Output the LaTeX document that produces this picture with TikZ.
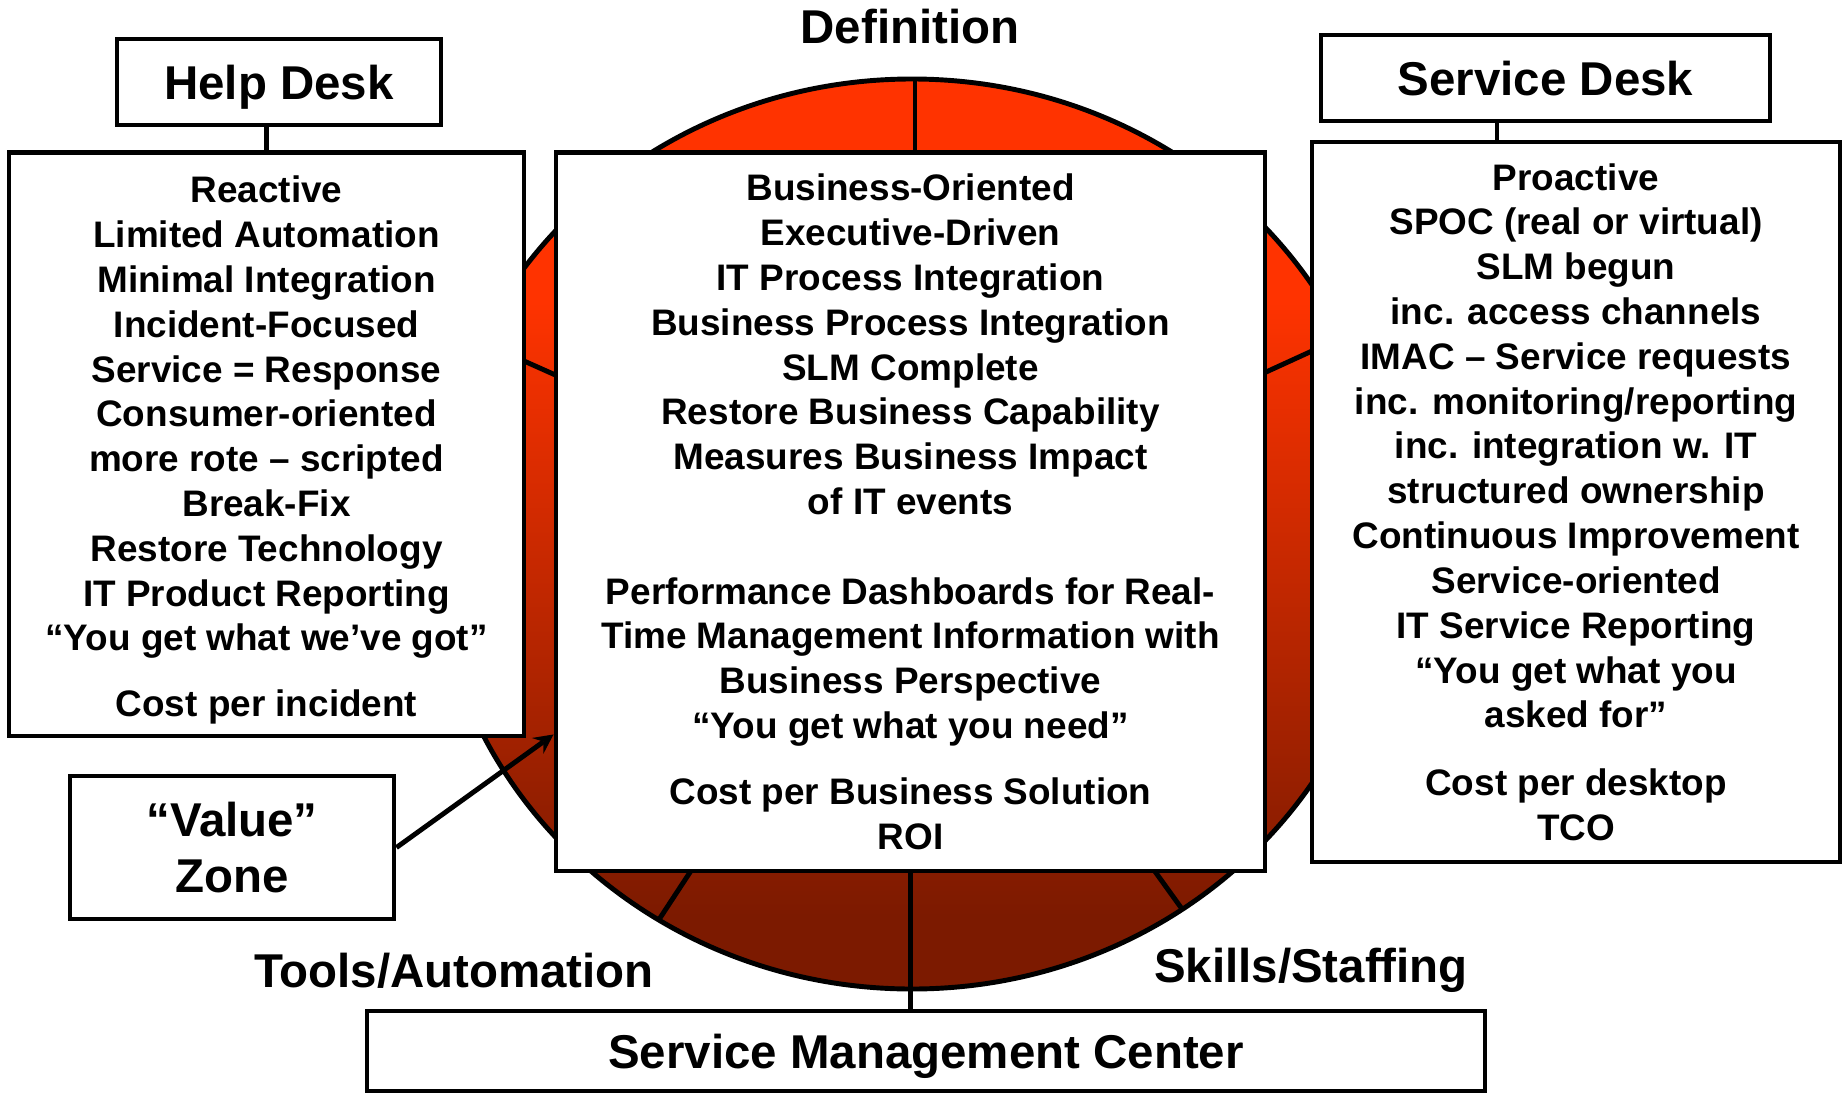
\documentclass[tikz,border=0pt]{standalone}
\usepackage{fontspec}
\setmainfont{Liberation Sans}
\definecolor{discred}{RGB}{255,51,0}
\definecolor{discdark}{RGB}{124,26,0}
\pgfdeclareverticalshading{disc}{100bp}{color(0bp)=(discdark); color(29bp)=(discdark); color(63bp)=(discred); color(100bp)=(discred)}
\begin{document}
\begin{tikzpicture}[>=stealth,x=1cm,y=1cm,
	listbox/.style={draw,line width=1.4pt,fill=white,inner sep=0pt,align=center,font=\fontsize{10.5}{12.75}\selectfont\bfseries},
	headbox/.style={draw,line width=1.4pt,fill=white,inner sep=0pt,align=center,font=\fontsize{13.5}{16.2}\selectfont\bfseries},
	ringtext/.style={anchor=base,font=\fontsize{13.5}{16.2}\selectfont\bfseries},
	spoke/.style={line width=1.4pt},
	link/.style={line width=1.2pt}]
		\useasboundingbox (0,0) rectangle (18.45,10.93);
		\coordinate (hub) at (9.12,5.59);
		\shade[shading=disc] (hub) ellipse (4.78 and 4.55);
		\begin{scope}
		\clip (hub) ellipse (4.78 and 4.55);
		\draw[spoke] (9.15,5.59)--++(0,5.5);
		\draw[spoke] (hub)--++(-7.76,3.46) (hub)--++(8,3.66) (hub)--++(-5.04,-7.68) (hub)--++(5.4,-7.5);
		\end{scope}
		\draw[line width=1.4pt] (hub) ellipse (4.78 and 4.55);
		\node[ringtext] (defn) at (9.10,10.49) {Definition};
		\node[ringtext] (tools) at (4.54,1.06) {Tools/Automation};
		\node[ringtext] (skills) at (13.11,1.11) {Skills/Staffing};
		\node[headbox,text depth=0pt,minimum width=3.24cm,minimum height=0.86cm] (hd) at (2.79,10.11) {Help Desk};
		\node[headbox,text depth=0pt,minimum width=4.49cm,minimum height=0.86cm] (sd) at (15.455,10.15) {Service Desk};
		\node[headbox,text depth=0pt,minimum width=11.18cm,minimum height=0.80cm] (smc) at (9.26,0.42) {Service Management Center};
		\node[headbox,minimum width=3.24cm,minimum height=1.43cm] (value) at (2.32,2.455) {“Value”\\Zone};
		\node[listbox,minimum width=5.15cm,minimum height=5.834cm] (hdlist) at (2.665,6.487) {\rule{0pt}{11pt}Reactive\\Limited Automation\\Minimal Integration\\Incident-Focused\\Service = Response\\Consumer-oriented\\more rote – scripted\\Break-Fix\\Restore Technology\\IT Product Reporting\\“You get what we’ve got”\\[6pt]Cost per incident};
		\node[listbox,minimum width=7.09cm,minimum height=7.184cm] (smlist) at (9.105,5.812) {Business-Oriented\\Executive-Driven\\IT Process Integration\\Business Process Integration\\SLM Complete\\Restore Business Capability\\Measures Business Impact\\of IT events\\[12.75pt]Performance Dashboards for Real-\\Time Management Information with\\Business Perspective\\“You get what you need”\\[6pt]Cost per Business Solution\\ROI};
		\node[listbox,minimum width=5.28cm,minimum height=7.20cm] (sdlist) at (15.76,5.91) {Proactive\\SPOC (real or virtual)\\SLM begun\\inc. access channels\\IMAC – Service requests\\inc. monitoring/reporting\\inc. integration w. IT\\structured ownership\\Continuous Improvement\\Service-oriented\\IT Service Reporting\\“You get what you\\asked for”\\[6.5pt]Cost per desktop\\TCO};
		\draw[link] (hdlist.north)--(hdlist.north |- hd.south);
		\draw[link] ([xshift=-0.485cm]sd.south)--([xshift=-0.485cm]sd.south |- sdlist.north);
		\draw[spoke] (smlist.south)--(smlist.south |- smc.north);
		\draw[line width=1.4pt,->] (value.east)--([yshift=1.39cm]smlist.south west);
\end{tikzpicture}
\end{document}
